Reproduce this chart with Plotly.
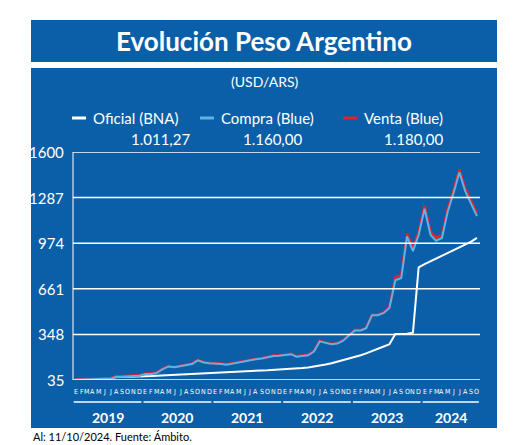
import plotly.graph_objects as go
import pandas as pd

meses = pd.date_range("2019-01-01", "2024-10-01", freq="MS") + pd.Timedelta(days=14)

oficial = [38, 39, 42, 44, 45, 44, 43, 55, 57, 59, 60, 60,
           61, 62, 64, 67, 69, 71, 73, 75, 77, 80, 83, 86,
           89, 91, 93, 95, 96, 98, 99, 100, 101, 102, 104, 105,
           107, 110, 113, 117, 121, 126, 133, 141, 150, 160, 172, 182,
           192, 205, 218, 232, 250, 265, 280, 350, 350, 352, 360, 808,
           830, 850, 870, 885, 905, 925, 945, 965, 985, 1011]
compra = [37, 39, 42, 44, 45, 43, 43, 58, 58, 62, 63, 64,
          76, 77, 84, 110, 128, 122, 130, 137, 145, 170, 155, 150,
          150, 145, 140, 148, 155, 165, 175, 178, 182, 190, 200, 202,
          205, 212, 195, 200, 205, 230, 300, 290, 280, 285, 305, 340,
          375, 375, 390, 480, 480, 495, 530, 720, 735, 1020, 920, 1030,
          1210, 1030, 990, 1010, 1190, 1320, 1460, 1330, 1240, 1160]
venta = [v + 20 if v > 600 else v + 3 for v in compra]

anios = ["2019", "2020", "2021", "2022", "2023", "2024"]
letras = list("EFMAMJJASOND")
ticks_y = [35, 348, 661, 974, 1287, 1600]

AZUL = "#0b5fa8"
OFF = 8  # margen del body de la página
W, H = 505, 437
L, R, T, B = 73 - OFF, 480 - OFF, 152 - OFF, 380 - OFF


def px(x):
    return (x - OFF - L) / (R - L)


def py(y):
    return (B - (y - OFF)) / (B - T)


fig = go.Figure()
fig.add_trace(go.Scatter(x=meses, y=oficial, mode="lines", line=dict(color="white", width=2), showlegend=False))
fig.add_trace(go.Scatter(x=meses, y=venta, mode="lines", line=dict(color="#e8202a", width=2.5), showlegend=False))
fig.add_trace(go.Scatter(x=meses, y=compra, mode="lines", line=dict(color="#5ab4e8", width=2), showlegend=False))

shapes = [
    dict(type="rect", xref="paper", yref="paper", x0=px(31), x1=px(497), y0=py(20), y1=py(62),
         fillcolor=AZUL, line_width=0, layer="below"),
    dict(type="rect", xref="paper", yref="paper", x0=px(31), x1=px(497), y0=py(68), y1=py(428),
         fillcolor=AZUL, line_width=0, layer="below"),
    dict(type="line", xref="paper", yref="paper", x0=0, x1=0, y0=0, y1=1, line=dict(color="white", width=1)),
]
for t in ticks_y:
    shapes.append(dict(type="line", xref="paper", yref="y", x0=0, x1=1, y0=t, y1=t,
                       line=dict(color="white", width=1.5)))

ann = [
    dict(text="<b>Evolución Peso Argentino</b>", x=px(264), y=py(41), font=dict(size=26)),
    dict(text="(USD/ARS)", x=px(264), y=py(82), font=dict(size=14)),
    dict(text="Al: 11/10/2024. Fuente: Ámbito.", x=px(31), y=py(436), xanchor="left",
         font=dict(size=11, color="black")),
]
for t in ticks_y:
    ann.append(dict(text=str(t), x=px(66), y=t, yref="y", xanchor="right", font=dict(size=15)))

leyenda = [("Oficial (BNA)", "white", 72, 160, "1.011,27"),
           ("Compra (Blue)", "#5ab4e8", 200, 272, "1.160,00"),
           ("Venta (Blue)", "#e8202a", 343, 413, "1.180,00")]
for nombre, col, x0, cx, valor in leyenda:
    shapes.append(dict(type="line", xref="paper", yref="paper", x0=px(x0), x1=px(x0 + 14),
                       y0=py(118), y1=py(118), line=dict(color=col, width=3)))
    ann.append(dict(text=nombre, x=px(x0 + 19), y=py(118), xanchor="left", font=dict(size=15)))
    ann.append(dict(text=valor, x=px(cx), y=py(139), font=dict(size=15)))

# letras de meses
for m in meses:
    ann.append(dict(text=letras[m.month - 1], x=m, xref="x", y=py(392),
                    font=dict(size=7, family="DejaVu Sans Condensed, sans-serif")))
# años
for a in anios:
    ini = pd.Timestamp(f"{a}-01-05")
    fin = min(pd.Timestamp(f"{a}-12-25"), meses[-1] + pd.Timedelta(days=10))
    shapes.append(dict(type="line", xref="x", yref="paper", x0=ini, x1=fin, y0=py(402), y1=py(402),
                       line=dict(color="white", width=1.5)))
    ann.append(dict(text=f"<b>{a}</b>", x=ini + (fin - ini) / 2, xref="x", y=py(417), font=dict(size=14)))

for a in ann:
    a.setdefault("xref", "paper")
    a.setdefault("yref", "paper")
    a.setdefault("xanchor", "center")
    a.setdefault("yanchor", "middle")
    a["showarrow"] = False
    a["font"].setdefault("color", "white")

fig.update_layout(
    width=W, height=H,
    margin=dict(l=L, r=W - R, t=T, b=H - B, pad=0),
    paper_bgcolor="white", plot_bgcolor=AZUL,
    font=dict(family="Lato, sans-serif", color="white"),
    xaxis=dict(range=[pd.Timestamp("2019-01-01"), pd.Timestamp("2024-10-31")], visible=False),
    yaxis=dict(range=[35, 1600], visible=False),
    shapes=shapes, annotations=ann,
)
fig.write_html("out.html")
